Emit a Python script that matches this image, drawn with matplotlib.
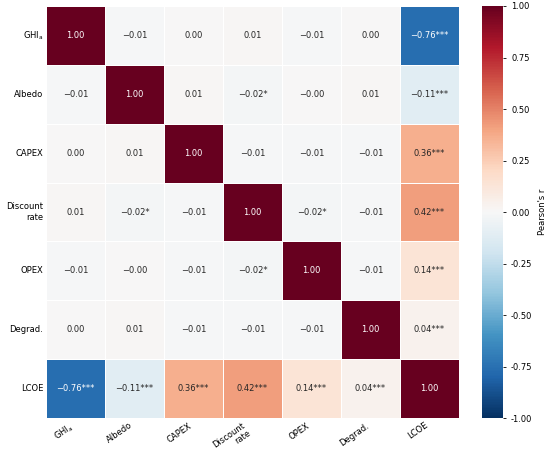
import numpy as np
import matplotlib
matplotlib.use("Agg")
import matplotlib.pyplot as plt
import seaborn as sns

# variables and correlation matrix (Pearson's r)
labels = ["GHI$_\\mathregular{a}$", "Albedo", "CAPEX", "Discount\nrate", "OPEX", "Degrad.", "LCOE"]
ghi = [1.00, -0.01, 0.00, 0.01, -0.01, 0.00, -0.76]
albedo = [-0.01, 1.00, 0.01, -0.02, -0.00, 0.01, -0.11]
capex = [0.00, 0.01, 1.00, -0.01, -0.01, -0.01, 0.36]
discount = [0.01, -0.02, -0.01, 1.00, -0.02, -0.01, 0.42]
opex = [-0.01, -0.00, -0.01, -0.02, 1.00, -0.01, 0.14]
degrad = [0.00, 0.01, -0.01, -0.01, -0.01, 1.00, 0.04]
lcoe = [-0.76, -0.11, 0.36, 0.42, 0.14, 0.04, 1.00]

# significance stars for each cell
stars = [
    ["", "", "", "", "", "", "***"],
    ["", "", "", "*", "", "", "***"],
    ["", "", "", "", "", "", "***"],
    ["", "*", "", "", "*", "", "***"],
    ["", "", "", "*", "", "", "***"],
    ["", "", "", "", "", "", "***"],
    ["***", "***", "***", "***", "***", "***", ""],
]

corr = np.array([ghi, albedo, capex, discount, opex, degrad, lcoe])
annot = np.empty(corr.shape, dtype=object)
for i in range(corr.shape[0]):
    for j in range(corr.shape[1]):
        v = corr[i, j]
        s = f"{abs(v):.2f}"
        if v < 0 or (v == 0 and np.signbit(v)):
            s = "\u2212" + s
        annot[i, j] = s + stars[i][j]

fig = plt.figure(figsize=(5.5, 4.51), dpi=100)
ax = fig.add_axes([0.0836, 0.073, 0.751, 0.9137])
cax = fig.add_axes([0.876, 0.073, 0.038, 0.9137])

sns.heatmap(corr, ax=ax, cbar_ax=cax, cmap="RdBu_r", vmin=-1, vmax=1,
            annot=annot, fmt="", annot_kws={"size": 6},
            linewidths=0.7, linecolor="white",
            xticklabels=labels, yticklabels=labels,
            cbar_kws={"label": "Pearson's r", "ticks": np.arange(-1, 1.01, 0.25)})

ax.tick_params(length=0, labelsize=6, pad=2)
plt.setp(ax.get_xticklabels(), rotation=35, ha="right", linespacing=1.1)
plt.setp(ax.get_yticklabels(), rotation=0)
cax.tick_params(labelsize=6, length=2.5, width=0.6)
cax.yaxis.label.set_size(6)
cax.yaxis.set_major_formatter(matplotlib.ticker.FormatStrFormatter("%.2f"))

fig.savefig("out.png", dpi=100)
